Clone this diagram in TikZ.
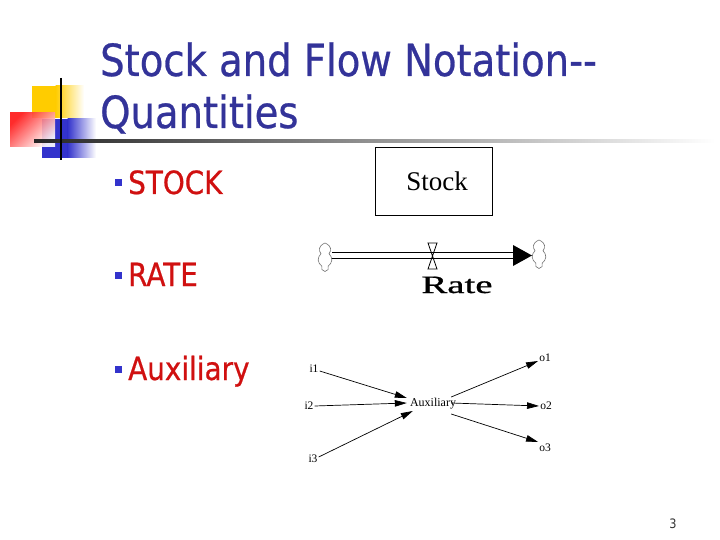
\documentclass[tikz,border=0pt]{standalone}
\usepackage{fontspec}
\usetikzlibrary{arrows.meta,shapes.symbols,calc}
\newfontfamily\tah{DejaVu Sans}[FakeStretch=0.87,FakeBold=0.6]
\newfontfamily\tahn{DejaVu Sans}[FakeStretch=0.87]
\newfontfamily\tms{Liberation Serif}
\newfontfamily\tmsb{Liberation Serif}[FakeBold=0.8]
\definecolor{ttl}{RGB}{51,51,153}
\definecolor{btxt}{RGB}{208,16,16}
\definecolor{bsq}{RGB}{51,51,204}
\definecolor{ylw}{RGB}{255,204,0}
\definecolor{rd}{RGB}{255,20,20}
\tikzset{
  title/.style={anchor=base west, inner sep=0pt, text=ttl, font=\tah\fontsize{44.3}{50}\selectfont},
  btext/.style={anchor=base west, inner sep=0pt, text=btxt, font=\tah\fontsize{32}{36}\selectfont},
  bsquare/.style={fill=bsq, draw=none, minimum size=7pt, inner sep=0pt},
  lbl/.style={inner sep=1pt, font=\tms\fontsize{11.5}{12}\selectfont},
  infl/.style={line width=0.7pt, -{Triangle[length=12pt,width=6.5pt]}},
  cloudn/.style={cloud, cloud puffs=7, cloud puff arc=110, aspect=0.5, draw=black!55, fill=white, minimum width=14pt, minimum height=28pt, inner sep=0pt, line width=0.6pt},
  pipe/.style={double distance=5pt, line width=1.3pt}
}
\begin{document}
\begin{tikzpicture}[x=1pt,y=-1pt]
\useasboundingbox[fill=white] (0,0) rectangle (720,540);
% logo
\fill[ylw] (32,86) rectangle (56,118);
\shade[left color=ylw, right color=white] (55.5,86) rectangle (84,118);
\fill[bsq] (42,119) rectangle (68,158);
\shade[left color=bsq, right color=white] (67.5,119) rectangle (96,158);
\shade[top color=rd, bottom color=white, shading angle=45, opacity=0.9] (10,113) rectangle (55,147);
\shade[left color=black!85, middle color=black!40, right color=white] (34,139.5) rectangle (715,142.5);
\draw[line width=2pt] (61,78) -- (61,160);
% title
\node[title] (t1) at (100,76) {Stock and Flow Notation--};
\node[title] (t2) at (100,128) {Quantities};
% bullets
\node[bsquare] (b1) at (118.5,183) {};
\node[btext] (s1) at (128,194) {STOCK};
\node[bsquare] (b2) at (118.5,275) {};
\node[btext] (s2) at (128,286) {RATE};
\node[bsquare] (b3) at (118.5,369) {};
\node[btext] (s3) at (128,380) {Auxiliary};
% stock
\node[draw, line width=1pt, minimum width=117pt, minimum height=68pt, inner sep=0pt] (stock) at (433.5,182) {};
\node[inner sep=0pt, font=\tms\fontsize{27}{30}\selectfont] (stocktxt) at (437,181) {Stock};
% rate
\node[cloudn] (lc) at (325,257) {};
\node[cloudn] (rc) at (539,254) {};
\coordinate (pl) at (332,255.5);
\coordinate (pr) at (514,255.5);
\coordinate (tip) at (532,255.5);
\draw[pipe] (pl) -- (pr);
\fill (tip) -- ++(-19,-10.5) -- ++(0,21) -- cycle;
\draw[line width=0.8pt] (428,243) -- (437,243) -- (428,269) -- (437,269) -- cycle;
\node[anchor=base, inner sep=0pt, font=\tmsb\fontsize{25}{28}\selectfont] (ratetxt) at (457,293) {\scalebox{1.55}[1]{Rate}};
% auxiliary
\node[inner sep=2pt, font=\tms\fontsize{12}{13}\selectfont] (aux) at (433,404) {Auxiliary};
\node[lbl] (i1) at (314,369) {i1};
\node[lbl] (i2) at (309,406) {i2};
\node[lbl] (i3) at (313,459) {i3};
\node[lbl] (o1) at (545,358) {o1};
\node[lbl] (o2) at (546,406) {o2};
\node[lbl] (o3) at (545,448) {o3};
\draw[infl] ($(i1.east)+(0,2)$) -- ($(aux.west)+(-1,-6)$);
\draw[infl] (i2.east) -- ($(aux.west)+(-1,-1)$);
\draw[infl] ($(i3.east)+(0,-2)$) -- ($(aux.west)+(5,7)$);
\draw[infl] ($(aux.east)+(-7,-7)$) -- ($(o1.west)+(0,3)$);
\draw[infl] ($(aux.east)+(-7,-1)$) -- (o2.west);
\draw[infl] ($(aux.east)+(-7,10)$) -- ($(o3.west)+(0,-6)$);
% page number
\node[anchor=base, inner sep=0pt, text=black!80, font=\tahn\fontsize{13}{14}\selectfont] (pg) at (673,528) {3};
\end{tikzpicture}
\end{document}
